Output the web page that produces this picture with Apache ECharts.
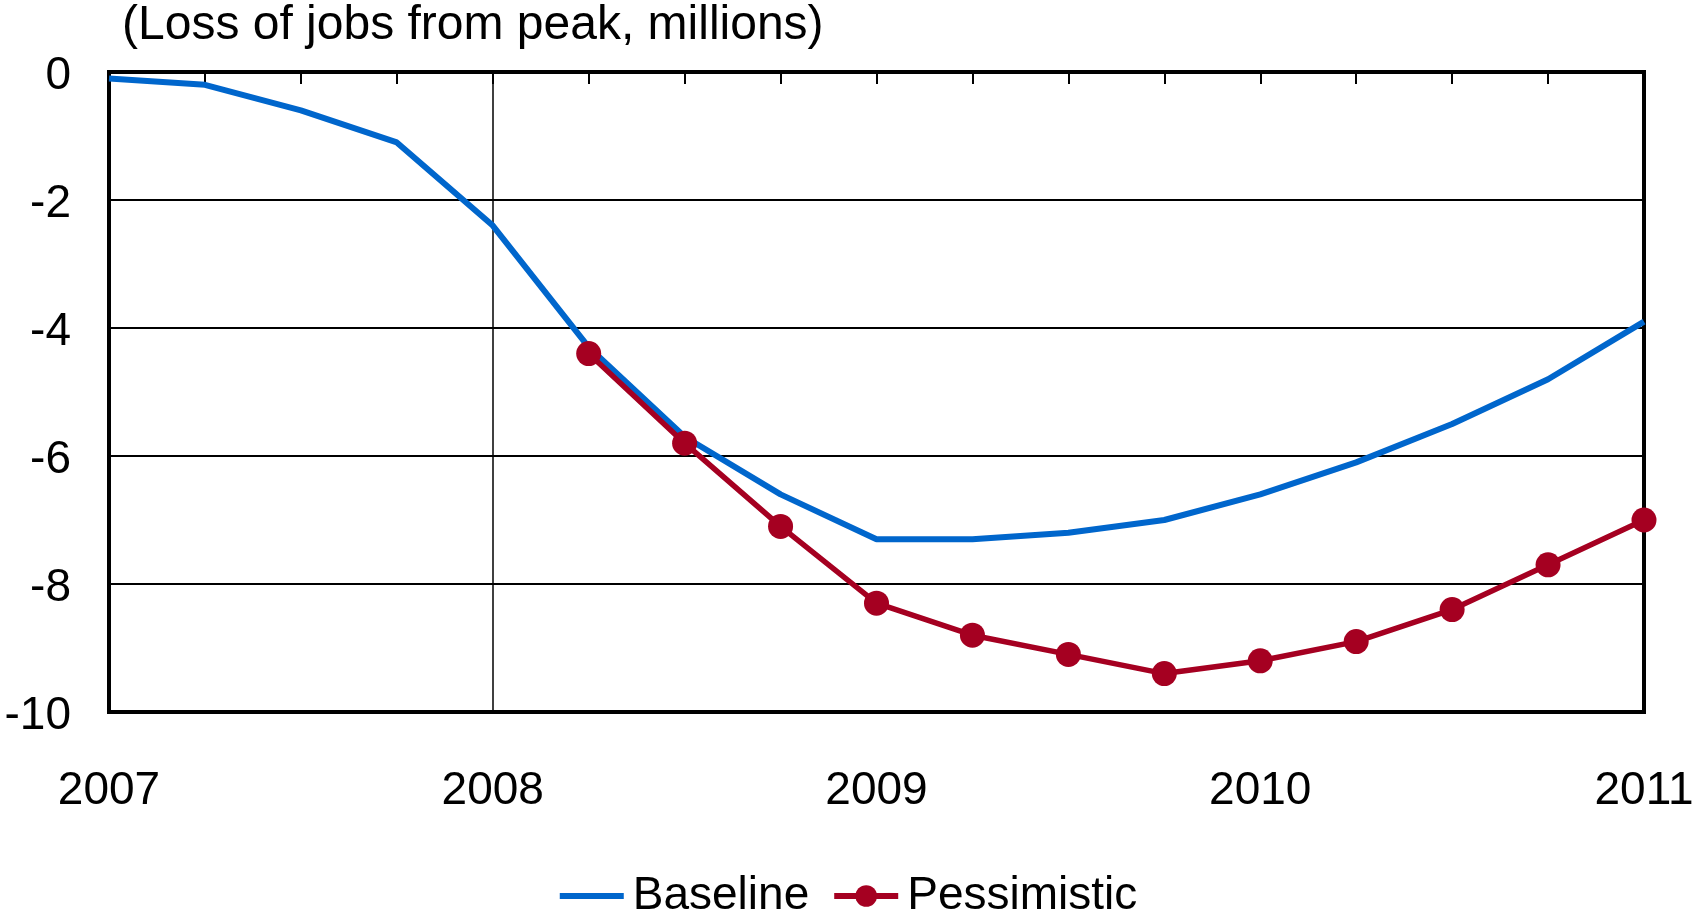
<!DOCTYPE html>
<html>
<head>
<meta charset="utf-8">
<title>Loss of jobs from peak</title>
<script src="https://cdn.jsdelivr.net/npm/echarts@6/dist/echarts.min.js"></script>
<style>
  html, body { margin: 0; padding: 0; background: #fff; }
  #chart { width: 1694px; height: 917px; }
</style>
</head>
<body>
<div id="chart"></div>
<script>
// Quarterly dates, 2007Q1 .. 2011Q1
const quarters = [2007, 2007.25, 2007.5, 2007.75, 2008, 2008.25, 2008.5, 2008.75,
                  2009, 2009.25, 2009.5, 2009.75, 2010, 2010.25, 2010.5, 2010.75, 2011];
// Jobs lost from peak, millions
const baseline = [-0.1, -0.2, -0.6, -1.1, -2.4, -4.3, -5.7, -6.6,
                  -7.3, -7.3, -7.2, -7.0, -6.6, -6.1, -5.5, -4.8, -3.9];
// Pessimistic path starts in 2008Q2
const pessimisticStart = 5;
const pessimistic = [-4.4, -5.8, -7.1, -8.3, -8.8, -9.1, -9.4, -9.2,
                     -8.9, -8.4, -7.7, -7.0];
const yearLabels = ['2007', '2008', '2009', '2010', '2011'];
const yTicks = ['0', '-2', '-4', '-6', '-8', '-10'];

const FONT = '"Liberation Sans", Arial, sans-serif';
const BLUE = '#0066CC';
const RED = '#A50021';

const gridLeft = 109, gridRight = 50, gridTop = 72, gridBottom = 205;
const plotWidth = 1694 - gridLeft - gridRight;
// vertical reference line at the start of 2008
const innerAxisOffset = -plotWidth * (2008 - 2007) / (2011 - 2007);

const baseData = quarters.map((q, i) => [q, baseline[i]]);
const pessData = pessimistic.map((v, i) => [quarters[pessimisticStart + i], v]);

const chart = echarts.init(document.getElementById('chart'), null, { renderer: 'canvas' });
chart.setOption({
  animation: false,
  backgroundColor: '#ffffff',
  title: {
    text: '(Loss of jobs from peak, millions)',
    left: 122, top: 2, padding: 0,
    textStyle: { fontFamily: FONT, fontSize: 48, fontWeight: 'normal', color: '#000' }
  },
  legend: {
    bottom: -7, left: 'center', orient: 'horizontal',
    itemWidth: 64, itemHeight: 27, itemGap: 22,
    textStyle: { fontFamily: FONT, fontSize: 46, color: '#000', padding: [0, 0, 0, 4] },
    data: [
      { name: 'Baseline', itemStyle: { opacity: 0 }, lineStyle: { width: 6, color: BLUE } },
      { name: 'Pessimistic', lineStyle: { width: 6, color: RED } }
    ]
  },
  grid: {
    left: gridLeft, right: gridRight, top: gridTop, bottom: gridBottom,
    outerBoundsMode: 'none', containLabel: false,
    show: true, borderColor: '#000', borderWidth: 4, backgroundColor: 'transparent'
  },
  xAxis: [
    {
      type: 'value', min: 2007, max: 2011, interval: 1, position: 'bottom',
      axisLine: { show: false }, axisTick: { show: false }, splitLine: { show: false },
      axisLabel: {
        margin: 56, fontFamily: FONT, fontSize: 46, color: '#000',
        formatter: v => yearLabels[Math.round(v - 2007)]
      }
    },
    {
      type: 'value', min: 2007, max: 2011, interval: 0.25, position: 'top',
      axisLine: { show: false },
      axisTick: { show: true, inside: true, length: 12, lineStyle: { color: '#000', width: 2 } },
      axisLabel: { show: false }, splitLine: { show: false }
    }
  ],
  yAxis: [
    {
      type: 'value', min: -10, max: 0, interval: 2,
      axisLine: { show: false }, axisTick: { show: false },
      splitLine: { show: true, lineStyle: { color: '#000', width: 2 } },
      axisLabel: {
        margin: 38, fontFamily: FONT, fontSize: 46, color: '#000',
        verticalAlign: 'top', lineHeight: 9,
        formatter: v => yTicks[Math.round(-v / 2)]
      }
    },
    {
      type: 'value', min: -10, max: 0, interval: 2, position: 'left', offset: innerAxisOffset,
      axisLine: { show: true, lineStyle: { color: '#000', width: 1.5 } },
      axisTick: { show: true, inside: false, length: 13, lineStyle: { color: '#000', width: 2 } },
      axisLabel: { show: false }, splitLine: { show: false }
    }
  ],
  series: [
    {
      name: 'Baseline', type: 'line', data: baseData,
      xAxisIndex: 0, yAxisIndex: 0,
      showSymbol: false, symbol: 'none',
      lineStyle: { color: BLUE, width: 6 }, itemStyle: { color: BLUE },
      z: 3
    },
    {
      name: 'Pessimistic', type: 'line', data: pessData,
      xAxisIndex: 0, yAxisIndex: 0,
      symbol: 'circle', symbolSize: 25,
      lineStyle: { color: RED, width: 5.5 }, itemStyle: { color: RED },
      z: 4
    }
  ]
});
</script>
</body>
</html>
